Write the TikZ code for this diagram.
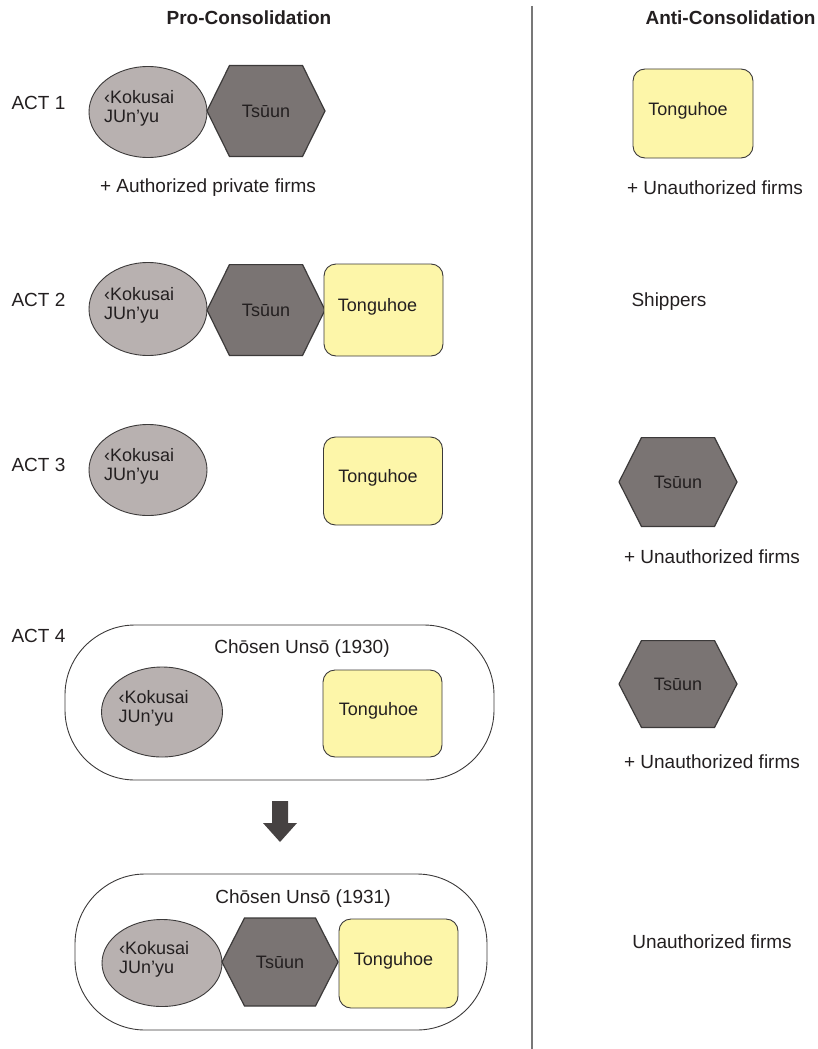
\documentclass[tikz,border=0pt]{standalone}
\usepackage{fontspec}
\setmainfont{Liberation Sans}
\usetikzlibrary{shapes.geometric,calc}
\definecolor{txt}{RGB}{35,31,32}
\definecolor{edge}{RGB}{60,58,58}
\definecolor{ellfill}{RGB}{184,177,176}
\definecolor{hexfill}{RGB}{122,116,115}
\definecolor{yel}{RGB}{253,246,169}
\definecolor{arrowc}{RGB}{70,66,66}
\definecolor{divc}{RGB}{120,120,120}
\tikzset{
  base/.style={text=txt, font=\fontsize{19}{22}\selectfont},
  header/.style={base, font=\fontsize{19}{22}\selectfont\bfseries},
  actlabel/.style={base, anchor=west},
  kokell/.style={ellipse, draw=edge, line width=0.9pt, fill=ellfill, minimum width=118pt, minimum height=91pt, inner sep=0pt},
  koktext/.style={base, font=\fontsize{18}{19}\selectfont, align=left, anchor=west},
  hexnode/.style={base, font=\fontsize{18}{20}\selectfont, minimum width=119pt, minimum height=92pt, inner sep=0pt,
    path picture={\filldraw[fill=hexfill, draw=edge, line width=1.2pt]
      ([xshift=23pt,yshift=-0.5pt]path picture bounding box.north west) --
      ([xshift=-23pt,yshift=-0.5pt]path picture bounding box.north east) --
      ([xshift=-0.5pt]path picture bounding box.east) --
      ([xshift=-23pt,yshift=0.5pt]path picture bounding box.south east) --
      ([xshift=23pt,yshift=0.5pt]path picture bounding box.south west) --
      ([xshift=0.5pt]path picture bounding box.west) -- cycle;}},
  tongbox/.style={base, font=\fontsize{18}{20}\selectfont, draw=edge, line width=0.9pt, fill=yel, rounded corners=12pt,
    minimum width=119pt, minimum height=88pt, inner sep=0pt, text height=13pt, text depth=10pt},
  corp/.style={draw=edge, line width=0.9pt, rounded corners=70pt},
  divider/.style={draw=divc, line width=2pt},
  bigarrow/.style={fill=arrowc, draw=none}
}
\begin{document}
\begin{tikzpicture}[x=1pt,y=-1pt]
\useasboundingbox (0,0) rectangle (817,1049);
% headers and divider
\node[header] (hpro) at (249,18) {Pro-Consolidation};
\node[header, anchor=west] (hanti) at (642,18) {Anti-Consolidation};
\coordinate (dtop) at (532,6);
\coordinate (dbot) at (532,1049);
\draw[divider] (dtop) -- (dbot);

% ACT labels
\node[actlabel] (act1) at (8,103) {ACT 1};
\node[actlabel] (act2) at (8,300) {ACT 2};
\node[actlabel] (act3) at (8,465) {ACT 3};
\node[actlabel] (act4) at (8,636) {ACT 4};

% ACT 1 pro
\node[kokell] (k1) at (148,112) {};
\node[koktext] (k1t) at ($(k1.west)+(12,-4)$) {‹Kokusai\\JUn’yu};
\node[hexnode] (t1) at (266,111) {Tsūun};
\node[base] (auth) at (208,188) {+ Authorized private firms};

% ACT 1 anti
\node[tongbox, minimum width=120pt, minimum height=89pt] (g1) at (693,113.5) {Tonguhoe\hspace*{10pt}};
\node[base] (u1) at (715,188) {+ Unauthorized firms};

% ACT 2 pro
\node[kokell, minimum height=93pt] (k2) at (148,309) {};
\node[koktext] (k2t) at ($(k2.west)+(12,-4)$) {‹Kokusai\\JUn’yu};
\node[hexnode] (t2) at (266,310) {Tsūun};
\node[tongbox, minimum height=92pt] (g2) at (383.5,310) {Tonguhoe\hspace*{12pt}};
% ACT 2 anti
\node[base] (ship) at (669,302) {Shippers};

% ACT 3 pro
\node[kokell] (k3) at (148,470) {};
\node[koktext] (k3t) at ($(k3.west)+(12,-4)$) {‹Kokusai\\JUn’yu};
\node[tongbox] (g3) at (383,481) {Tonguhoe\hspace*{10pt}};
% ACT 3 anti
\node[hexnode, minimum height=90pt] (t3) at (678,482) {Tsūun};
\node[base] (u3) at (712,557) {+ Unauthorized firms};

% ACT 4 pro
\draw[corp] (65,625) rectangle (494,780);
\node[base] (c30) at (302,649) {Chōsen Unsō (1930)};
\node[kokell, minimum width=121pt, minimum height=90pt] (k4) at (162,712) {};
\node[koktext] (k4t) at ($(k4.west)+(14,-4)$) {‹Kokusai\\JUn’yu};
\node[tongbox, minimum height=87pt] (g4) at (382.5,713.5) {Tonguhoe\hspace*{8pt}};
% ACT 4 anti
\node[hexnode, minimum height=88pt] (t4) at (678,684) {Tsūun};
\node[base] (u4) at (712,762) {+ Unauthorized firms};

% arrow
\fill[bigarrow] (272,801) -- (288,801) -- (288,823) -- (297,823) -- (280,842) -- (263,823) -- (272,823) -- cycle;

% 1931
\draw[corp] (75,874) rectangle (487,1030);
\node[base] (c31) at (303,899) {Chōsen Unsō (1931)};
\node[kokell, minimum width=120pt, minimum height=87pt] (k5) at (162,963) {};
\node[koktext] (k5t) at ($(k5.west)+(14,-4)$) {‹Kokusai\\JUn’yu};
\node[hexnode, minimum width=117pt, minimum height=89pt] (t5) at (280,962) {Tsūun};
\node[tongbox, minimum height=89pt] (g5) at (398.5,963.5) {Tonguhoe\hspace*{10pt}};
\node[base] (u5) at (712,942) {Unauthorized firms};
\end{tikzpicture}
\end{document}
